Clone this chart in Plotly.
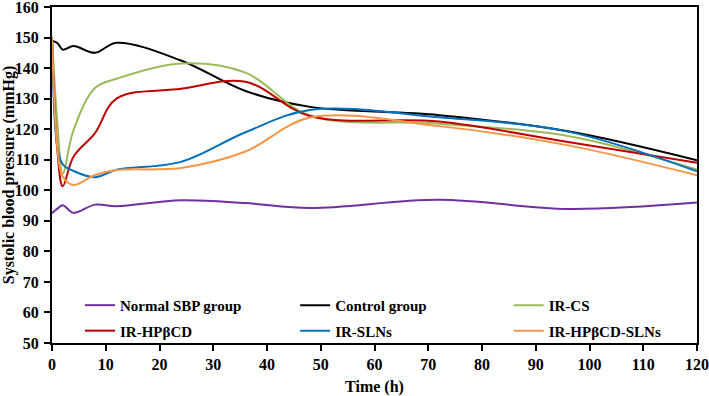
import plotly.graph_objects as go

time_h = [0, 1, 2, 4, 8, 12, 24, 36, 48, 72, 96, 120]

normal_sbp = [92.5, 94.0, 95.1, 92.6, 95.3, 94.8, 96.7, 95.8, 94.2, 96.9, 93.9, 96.0]
control = [149.0, 148.2, 146.0, 147.2, 145.0, 148.3, 142.5, 132.5, 127.3, 124.6, 119.3, 109.8]
ir_cs = [150.0, 122.0, 105.5, 119.7, 133.5, 136.5, 141.5, 138.5, 124.5, 121.8, 117.8, 106.8]
ir_hpbcd = [150.0, 113.0, 101.3, 111.0, 118.7, 130.0, 133.2, 135.5, 124.3, 122.5, 115.8, 109.0]
ir_slns = [150.0, 114.0, 108.5, 106.3, 104.3, 106.7, 109.3, 119.0, 126.3, 123.9, 119.2, 106.2]
ir_hpbcd_slns = [150.0, 114.0, 104.5, 101.7, 105.0, 106.6, 107.3, 112.7, 123.8, 121.0, 114.7, 104.9]

series_names = ["Normal SBP group", "Control group", "IR-CS",
                "IR-HPβCD", "IR-SLNs", "IR-HPβCD-SLNs"]
series_values = [normal_sbp, control, ir_cs, ir_hpbcd, ir_slns, ir_hpbcd_slns]
series_colors = ["#7030A0", "#000000", "#9BBB59", "#C00000", "#0070C0", "#F79646"]
# legend column for each series (3 columns x 2 rows, as in the reference)
series_legend = ["legend", "legend2", "legend3", "legend", "legend2", "legend3"]

x_ticks = list(range(0, 121, 10))
y_ticks = list(range(50, 161, 10))

FONT = "Liberation Serif"

fig = go.Figure()
for i, (name, vals, col, lg) in enumerate(zip(series_names, series_values,
                                               series_colors, series_legend)):
    fig.add_trace(go.Scatter(
        x=time_h, y=vals, name=name, mode="lines",
        line=dict(color=col, width=2, shape="spline", smoothing=1.0),
        legend=lg, legendgroup=f"g{i}",
    ))

axis_common = dict(
    showline=True, linecolor="black", linewidth=2, mirror=True,
    showgrid=False, zeroline=False, ticks="outside", ticklen=6,
    tickwidth=2, tickcolor="black", automargin=False,
    ticklabeloverflow="allow",
    tickfont=dict(family=FONT, size=16, color="black", weight="bold"),
)

legend_font = dict(family=FONT, size=15, color="black", weight="bold")
legend_common = dict(orientation="v", y=0.161, xanchor="left", yanchor="top",
                     bgcolor="rgba(0,0,0,0)", tracegroupgap=3, font=legend_font)

fig.update_layout(
    width=709, height=396,
    margin=dict(l=52, r=12, t=7, b=53),
    paper_bgcolor="white", plot_bgcolor="white",
    font=dict(family=FONT, color="black"),
    xaxis=dict(range=[0, 120], tickvals=x_ticks,
               title=dict(text="Time (h)", standoff=10,
                          font=dict(family=FONT, size=16, color="black", weight="bold")),
               **axis_common),
    yaxis=dict(range=[50, 160], tickvals=y_ticks, ticklabelstandoff=2,
               title=dict(text="Systolic blood pressure (mmHg)", standoff=2,
                          font=dict(family=FONT, size=16, color="black", weight="bold")),
               **axis_common),
    legend=dict(x=0.0434, **legend_common),
    legend2=dict(x=0.377, **legend_common),
    legend3=dict(x=0.708, **legend_common),
    showlegend=True,
)

fig.write_html(
    "out.html",
    config={"displayModeBar": False},
    post_script="document.body.style.margin='0px';document.body.style.overflow='hidden';",
)
